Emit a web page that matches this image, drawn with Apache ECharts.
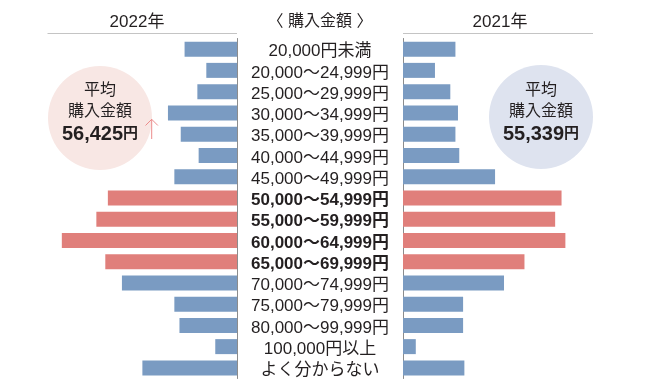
<!DOCTYPE html>
<html><head><meta charset="utf-8">
<script src="https://cdn.jsdelivr.net/npm/echarts@6/dist/echarts.min.js"></script>
<style>html,body{margin:0;padding:0;background:#fff}#c{width:650px;height:390px}</style>
</head><body><div id="c"></div>
<script>
const categories = ['20,000円未満','20,000〜24,999円','25,000〜29,999円','30,000〜34,999円','35,000〜39,999円','40,000〜44,999円','45,000〜49,999円','50,000〜54,999円','55,000〜59,999円','60,000〜64,999円','65,000〜69,999円','70,000〜74,999円','75,000〜79,999円','80,000〜99,999円','100,000円以上','よく分からない'];
const values2022 = [4.1,2.4,3.1,5.4,4.4,3.0,4.9,10.1,11.0,13.7,10.3,9.0,4.9,4.5,1.7,7.4];
const values2021 = [4.1,2.5,3.7,4.3,4.1,4.4,7.2,12.4,11.9,12.7,9.5,7.9,4.7,4.7,1.0,4.8];
const highlighted = [7,8,9,10];
const avg2022 = '56,425';
const avg2021 = '55,339';

const BLUE = '#7a9bc2', RED = '#e07f7b', TXT = '#231f20';
const FONT = '"Liberation Sans","Noto Sans CJK JP",sans-serif';
const colorFor = i => highlighted.includes(i) ? RED : BLUE;

const chart = echarts.init(document.getElementById('c'));
const AXMAX = 14.86;
chart.setOption({
  animation: false,
  grid: [
    {left: 47, width: 190, top: 38.5, height: 340},
    {left: 403, width: 190, top: 38.5, height: 340}
  ],
  xAxis: [
    {gridIndex: 0, type: 'value', inverse: true, min: 0, max: AXMAX, show: false},
    {gridIndex: 1, type: 'value', min: 0, max: AXMAX, show: false}
  ],
  yAxis: [
    {gridIndex: 0, type: 'category', data: categories, inverse: true, position: 'right',
     axisLine: {lineStyle: {color: '#8c8c8c', width: 1}}, axisTick: {show: false},
     axisLabel: {interval: 0, hideOverlap: false, margin: 83, align: 'center', fontSize: 17, color: TXT, fontFamily: FONT,
       formatter: (v, i) => highlighted.includes(i) ? '{b|' + v + '}' : '{n|' + v + '}',
       rich: {b: {fontWeight: 'bold', fontSize: 17, color: TXT, fontFamily: FONT, padding: [5, 0, 0, 0]},
              n: {fontSize: 17, color: TXT, fontFamily: FONT, padding: [5, 0, 0, 0]}}}},
    {gridIndex: 1, type: 'category', data: categories, inverse: true, position: 'left',
     axisLine: {lineStyle: {color: '#8c8c8c', width: 1}}, axisTick: {show: false}, axisLabel: {show: false}}
  ],
  series: [
    {type: 'bar', xAxisIndex: 0, yAxisIndex: 0, barWidth: 15, data: values2022.map((v, i) => ({value: v, itemStyle: {color: colorFor(i)}}))},
    {type: 'bar', xAxisIndex: 1, yAxisIndex: 1, barWidth: 15, data: values2021.map((v, i) => ({value: v, itemStyle: {color: colorFor(i)}}))}
  ],
  graphic: [
    {type: 'line', shape: {x1: 47.5, y1: 33.5, x2: 237, y2: 33.5}, style: {stroke: '#c4c4c4', lineWidth: 1}},
    {type: 'line', shape: {x1: 403, y1: 33.5, x2: 593, y2: 33.5}, style: {stroke: '#c4c4c4', lineWidth: 1}},
    {type: 'text', x: 137, y: 22, style: {text: '2022年', font: '17px ' + FONT, fill: TXT, textAlign: 'center', textVerticalAlign: 'middle'}},
    {type: 'text', x: 500, y: 22, style: {text: '2021年', font: '17px ' + FONT, fill: TXT, textAlign: 'center', textVerticalAlign: 'middle'}},
    {type: 'text', x: 320, y: 22, style: {text: '〈 購入金額 〉', font: '16px ' + FONT, fill: TXT, textAlign: 'center', textVerticalAlign: 'middle'}},
    {type: 'circle', shape: {cx: 100, cy: 118, r: 52}, style: {fill: '#f8e7e4'}, z: 0},
    {type: 'circle', shape: {cx: 541, cy: 117, r: 52}, style: {fill: '#dee3ef'}, z: 0},
    {type: 'text', x: 100, y: 91, z: 5, style: {text: '平均', font: '16px ' + FONT, fill: TXT, textAlign: 'center', textVerticalAlign: 'middle'}},
    {type: 'text', x: 100, y: 112, z: 5, style: {text: '購入金額', font: '16px ' + FONT, fill: TXT, textAlign: 'center', textVerticalAlign: 'middle'}},
    {type: 'text', x: 100, y: 134, z: 5, style: {text: '{v|' + avg2022 + '}{y|円}', textAlign: 'center', textVerticalAlign: 'middle',
      rich: {v: {fontSize: 20, fontWeight: 'bold', fill: TXT, fontFamily: FONT}, y: {fontSize: 15, fontWeight: 'bold', fill: TXT, fontFamily: FONT}}}},
    {type: 'text', x: 541, y: 91, z: 5, style: {text: '平均', font: '16px ' + FONT, fill: TXT, textAlign: 'center', textVerticalAlign: 'middle'}},
    {type: 'text', x: 541, y: 112, z: 5, style: {text: '購入金額', font: '16px ' + FONT, fill: TXT, textAlign: 'center', textVerticalAlign: 'middle'}},
    {type: 'text', x: 541, y: 134, z: 5, style: {text: '{v|' + avg2021 + '}{y|円}', textAlign: 'center', textVerticalAlign: 'middle',
      rich: {v: {fontSize: 20, fontWeight: 'bold', fill: TXT, fontFamily: FONT}, y: {fontSize: 15, fontWeight: 'bold', fill: TXT, fontFamily: FONT}}}},
    {type: 'polyline', z: 5, shape: {points: [[151.7, 139], [151.7, 119]]}, style: {stroke: '#ec8c8c', lineWidth: 1, fill: null}},
    {type: 'polyline', z: 5, shape: {points: [[145.5, 125.5], [151.7, 119.3], [157.9, 125.5]]}, style: {stroke: '#ec8c8c', lineWidth: 1, fill: null}}
  ]
});
</script></body></html>
